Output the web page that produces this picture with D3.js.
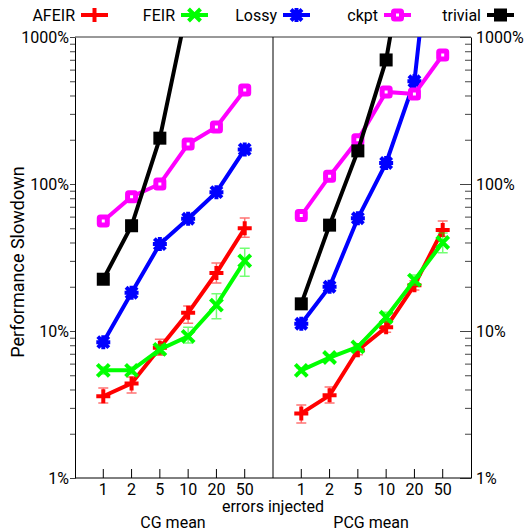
<!DOCTYPE html>
<html>
<head>
<meta charset="utf-8">
<script src="https://cdn.jsdelivr.net/npm/d3@7"></script>
<style>
  body { margin: 0; background: #fff; }
  text { font-family: Roboto, "Noto Sans", sans-serif; fill: #000; }
</style>
</head>
<body>
<script>
// categorias (errores inyectados)
var errores = ["1", "2", "5", "10", "20", "50"];
var paneles = ["CG mean", "PCG mean"];
var seriesNombres = ["AFEIR", "FEIR", "Lossy", "ckpt", "trivial"];
var yTicks = [1, 10, 100, 1000];

// CG (valores en %)
var afeirCG = [3.6, 4.4, 7.7, 13.3, 24.8, 50];
var afeirCGLo = [3.24, 3.79, 6.85, 11.3, 21.2, 43.5];
var afeirCGHi = [4.1, 4.86, 8.8, 14.8, 29, 58.6];
var feirCG = [5.4, 5.4, 7.5, 9.2, 15, 30];
var feirCGLo = [5.1, 5.1, 7.0, 8.3, 12.1, 23.6];
var feirCGHi = [5.7, 5.7, 8.1, 10.6, 17.9, 36.6];
var lossyCG = [8.4, 18.2, 39, 58, 88, 172];
var ckptCG = [56, 82, 100, 187, 244, 436];
var trivialCG = [22.5, 52, 205, 1700, null, null];

// PCG
var afeirPCG = [2.75, 3.65, 7.4, 10.6, 20.5, 48.7];
var afeirPCGLo = [2.37, 3.24, 6.9, 9.8, 19, 44];
var afeirPCGHi = [3.14, 4.16, 7.9, 11.5, 22, 56];
var feirPCG = [5.4, 6.6, 7.8, 12.4, 22.2, 40];
var feirPCGLo = [5.2, 6.3, 7.4, 11.5, 20.5, 34];
var feirPCGHi = [5.6, 6.9, 8.2, 13.4, 24, 46.4];
var lossyPCG = [11.2, 20, 58.5, 139, 500, 27000];
var ckptPCG = [61, 113, 200, 423, 410, 754];
var trivialPCG = [15.3, 52.5, 168, 698, 9000, null];

var ancho = 529, alto = 531;
var izq = 75, der = 471, arriba = 37, abajo = 478;

var colores = { AFEIR: "#ff0000", FEIR: "#00ff00", Lossy: "#0000ff", ckpt: "#ff00ff", trivial: "#000000" };
var marcas = { AFEIR: "plus", FEIR: "cross", Lossy: "star", ckpt: "osq", trivial: "fsq" };

// armar las series por panel
var datos = [
  { panel: 0, nombre: "AFEIR", v: afeirCG, lo: afeirCGLo, hi: afeirCGHi },
  { panel: 0, nombre: "FEIR", v: feirCG, lo: feirCGLo, hi: feirCGHi },
  { panel: 0, nombre: "Lossy", v: lossyCG },
  { panel: 0, nombre: "ckpt", v: ckptCG },
  { panel: 0, nombre: "trivial", v: trivialCG },
  { panel: 1, nombre: "AFEIR", v: afeirPCG, lo: afeirPCGLo, hi: afeirPCGHi },
  { panel: 1, nombre: "FEIR", v: feirPCG, lo: feirPCGLo, hi: feirPCGHi },
  { panel: 1, nombre: "Lossy", v: lossyPCG },
  { panel: 1, nombre: "ckpt", v: ckptPCG },
  { panel: 1, nombre: "trivial", v: trivialPCG }
];

var svg = d3.select("body").append("svg")
  .attr("width", ancho)
  .attr("height", alto);

// escala x: posicion 0..14, CG en 1..6, divisor en 7, PCG en 8..13
var escalaX = d3.scaleLinear().domain([0, 14]).range([izq, der]);
var posX = function (panel, i) { return escalaX(panel * 7 + 1 + i); };

var escalaY = d3.scaleLog().domain([1, 1000]).range([abajo, arriba]);

svg.append("defs").append("clipPath").attr("id", "recorte")
  .append("rect")
  .attr("x", izq).attr("y", arriba)
  .attr("width", der - izq).attr("height", abajo - arriba);

// ejes y
var fmt = function (d) { return yTicks.indexOf(d) >= 0 ? d + "%" : ""; };
var ejeIzq = svg.append("g")
  .attr("transform", "translate(" + izq + ",0)")
  .call(d3.axisLeft(escalaY).tickValues(escalaY.ticks()).tickFormat(fmt).tickSize(5).tickPadding(1).tickSizeOuter(0));
var ejeDer = svg.append("g")
  .attr("transform", "translate(" + der + ",0)")
  .call(d3.axisRight(escalaY).tickValues(escalaY.ticks()).tickFormat(fmt).tickSize(0).tickPadding(5).tickSizeOuter(0));
ejeDer.selectAll(".tick line")
  .attr("x2", function (d) { return yTicks.indexOf(d) >= 0 ? -11 : -6; });
[ejeIzq, ejeDer].forEach(function (e) {
  e.selectAll("text").style("font-size", "16px").attr("font-family", null).attr("dy", "0.36em");
  e.select(".domain").attr("stroke", "#000");
  e.selectAll(".tick line").attr("stroke", "#444");
});

// eje x
var ejeX = svg.append("g")
  .attr("transform", "translate(0," + abajo + ")");
paneles.forEach(function (p, k) {
  var g = ejeX.append("g");
  errores.forEach(function (e, i) {
    g.append("line")
      .attr("x1", posX(k, i)).attr("x2", posX(k, i))
      .attr("y1", 0).attr("y2", -9)
      .attr("stroke", "#000");
    g.append("text")
      .attr("x", posX(k, i)).attr("y", 17)
      .attr("text-anchor", "middle")
      .style("font-size", "16px")
      .text(e);
  });
  g.append("text")
    .attr("x", (posX(k, 0) + posX(k, 5)) / 2 - 1).attr("y", 50)
    .attr("text-anchor", "middle")
    .style("font-size", "16px")
    .text(p);
});
ejeX.append("line")
  .attr("x1", izq).attr("x2", der)
  .attr("stroke", "#000");
svg.append("text")
  .attr("x", escalaX(7)).attr("y", 512)
  .attr("text-anchor", "middle")
  .style("font-size", "16px")
  .text("errors injected");

// borde superior y divisor
svg.append("line")
  .attr("x1", izq).attr("x2", der)
  .attr("y1", arriba).attr("y2", arriba)
  .attr("stroke", "#333");
svg.append("line")
  .attr("x1", escalaX(7)).attr("x2", escalaX(7))
  .attr("y1", arriba).attr("y2", abajo)
  .attr("stroke", "#000");

// etiqueta y
svg.append("text")
  .attr("transform", "translate(24,262) rotate(-90)")
  .attr("text-anchor", "middle")
  .style("font-size", "18px")
  .text("Performance Slowdown");

// marcadores
function marcador(g, tipo, color) {
  if (tipo === "plus") {
    g.append("path").attr("d", "M-7,0H7M0,-7V7")
      .attr("stroke", color).attr("stroke-width", 4).attr("fill", "none");
  } else if (tipo === "cross") {
    g.append("path").attr("d", "M-6,-6L6,6M-6,6L6,-6")
      .attr("stroke", color).attr("stroke-width", 4).attr("fill", "none");
  } else if (tipo === "star") {
    g.append("path").attr("d", "M-7,0H7M0,-7V7M-5.5,-5.5L5.5,5.5M-5.5,5.5L5.5,-5.5")
      .attr("stroke", color).attr("stroke-width", 4).attr("fill", "none");
  } else if (tipo === "osq") {
    g.append("rect").attr("x", -4).attr("y", -4).attr("width", 8).attr("height", 8)
      .attr("rx", 1)
      .attr("stroke", color).attr("stroke-width", 5).attr("fill", "#fff");
  } else {
    g.append("rect").attr("x", -6.5).attr("y", -6.5).attr("width", 13).attr("height", 13)
      .attr("fill", color);
  }
}

var linea = d3.line()
  .defined(function (d) { return d.v != null; })
  .x(function (d) { return d.x; })
  .y(function (d) { return escalaY(d.v); });

var capa = svg.append("g").attr("clip-path", "url(#recorte)");

datos.forEach(function (s) {
  var color = colores[s.nombre];
  var pts = s.v.map(function (v, i) { return { x: posX(s.panel, i), v: v, i: i }; });
  var g = capa.append("g");

  // barras de error
  if (s.lo) {
    pts.forEach(function (p) {
      var y1 = escalaY(s.lo[p.i]), y2 = escalaY(s.hi[p.i]);
      g.append("path")
        .attr("d", "M" + p.x + "," + y1 + "V" + y2 +
          "M" + (p.x - 5) + "," + y1 + "H" + (p.x + 5) +
          "M" + (p.x - 5) + "," + y2 + "H" + (p.x + 5))
        .attr("stroke", color).attr("stroke-opacity", 0.55)
        .attr("stroke-width", 1.5).attr("fill", "none");
    });
  }

  g.append("path")
    .datum(pts)
    .attr("d", linea)
    .attr("fill", "none")
    .attr("stroke", color)
    .attr("stroke-width", 4);

  pts.filter(function (p) { return p.v != null && escalaY(p.v) >= arriba; })
    .forEach(function (p) {
      marcador(g.append("g").attr("transform", "translate(" + p.x + "," + escalaY(p.v) + ")"),
        marcas[s.nombre], color);
    });
});

// leyenda
var leyFin = [75, 175, 277, 378, 481];
seriesNombres.forEach(function (n, i) {
  var g = svg.append("g").attr("transform", "translate(" + leyFin[i] + ",0)");
  g.append("text")
    .attr("x", 0).attr("y", 21)
    .attr("text-anchor", "end")
    .style("font-size", "16px")
    .text(n);
  g.append("line")
    .attr("x1", 6).attr("x2", 33)
    .attr("y1", 15).attr("y2", 15)
    .attr("stroke", colores[n]).attr("stroke-width", 4);
  marcador(g.append("g").attr("transform", "translate(19.5,15)"), marcas[n], colores[n]);
});
</script>
</body>
</html>
